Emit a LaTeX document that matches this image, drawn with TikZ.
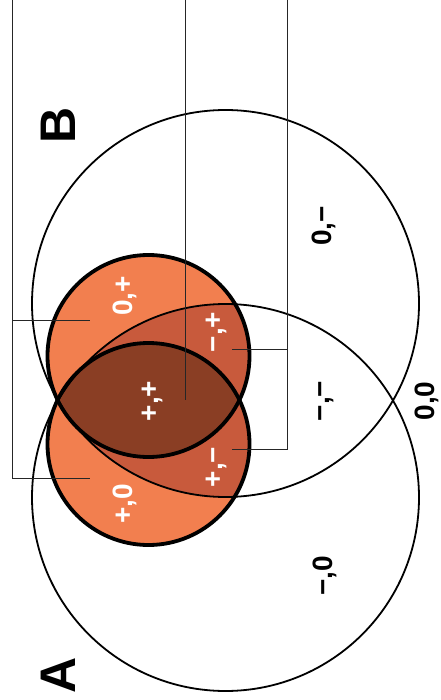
\documentclass[tikz,border=0pt]{standalone}
\usepackage{fontspec}
\setmainfont{Liberation Sans}
\definecolor{lightor}{HTML}{F27F4F}
\definecolor{medor}{HTML}{C85A3C}
\definecolor{darkor}{HTML}{8A3E24}
\tikzset{
  bigring/.style={draw=black,line width=1.8pt},
  smallring/.style={draw=black,line width=3.8pt},
  leader/.style={draw=black!85,line width=0.8pt},
  wlabel/.style={text=white,font=\fontsize{28}{28}\selectfont\bfseries,rotate=90,inner sep=0pt},
  blabel/.style={text=black,font=\fontsize{28}{28}\selectfont\bfseries,rotate=90,inner sep=0pt},
  setlabel/.style={text=black,font=\fontsize{50}{50}\selectfont\bfseries,rotate=90,inner sep=0pt}
}
\begin{document}
\begin{tikzpicture}[x=1pt,y=-1pt]
\useasboundingbox (0,0) rectangle (440,700);
% centres
\coordinate (cA) at (225.5,497.5);
\coordinate (cB) at (225.5,303.5);
\coordinate (cU) at (148.5,356);
\coordinate (cL) at (148.5,444);
% fills
\fill[lightor] (cU) circle[radius=101pt];
\fill[lightor] (cL) circle[radius=101pt];
\begin{scope}
  \clip (cU) circle[radius=101pt];
  \fill[medor] (cA) circle[radius=193.5pt];
\end{scope}
\begin{scope}
  \clip (cL) circle[radius=101pt];
  \fill[medor] (cB) circle[radius=193.5pt];
\end{scope}
\begin{scope}
  \clip (cU) circle[radius=101pt];
  \fill[darkor] (cL) circle[radius=101pt];
\end{scope}
% rings
\draw[bigring] (cA) circle[radius=193.5pt];
\draw[bigring] (cB) circle[radius=193.5pt];
\draw[smallring] (cU) circle[radius=101pt];
\draw[smallring] (cL) circle[radius=101pt];
% leader lines
\coordinate (t1) at (12,0);
\coordinate (k1) at (12,320);
\coordinate (k2) at (12,478);
\coordinate (e1) at (90,320);
\coordinate (e2) at (90,478);
\coordinate (t2) at (185.5,0);
\coordinate (e3) at (185.5,400);
\coordinate (t3) at (287.5,0);
\coordinate (k3) at (287.5,349);
\coordinate (k4) at (287.5,449);
\coordinate (e4) at (232,349);
\coordinate (e5) at (232,449);
\draw[leader] (t1) -- (k2) -- (e2);
\draw[leader] (k1) -- (e1);
\draw[leader] (t2) -- (e3);
\draw[leader] (t3) -- (k4) -- (e5);
\draw[leader] (k3) -- (e4);
% labels
\node[wlabel] (l0p) at (125,296) {0,+};
\node[wlabel] (lmp) at (216,332) {−,+};
\node[wlabel] (lpp) at (152,401) {+,+};
\node[wlabel] (lpm) at (216,467) {+,−};
\node[wlabel] (lp0) at (125,504) {+,0};
\node[blabel] (l0m) at (324,226) {0,−};
\node[blabel] (lmm) at (326,401) {−,−};
\node[blabel] (l00) at (427,401) {0,0};
\node[blabel] (lm0) at (325,576) {−,0};
\node[setlabel] (lA) at (58,675) {A};
\node[setlabel] (lB) at (58,125) {B};
\end{tikzpicture}
\end{document}
